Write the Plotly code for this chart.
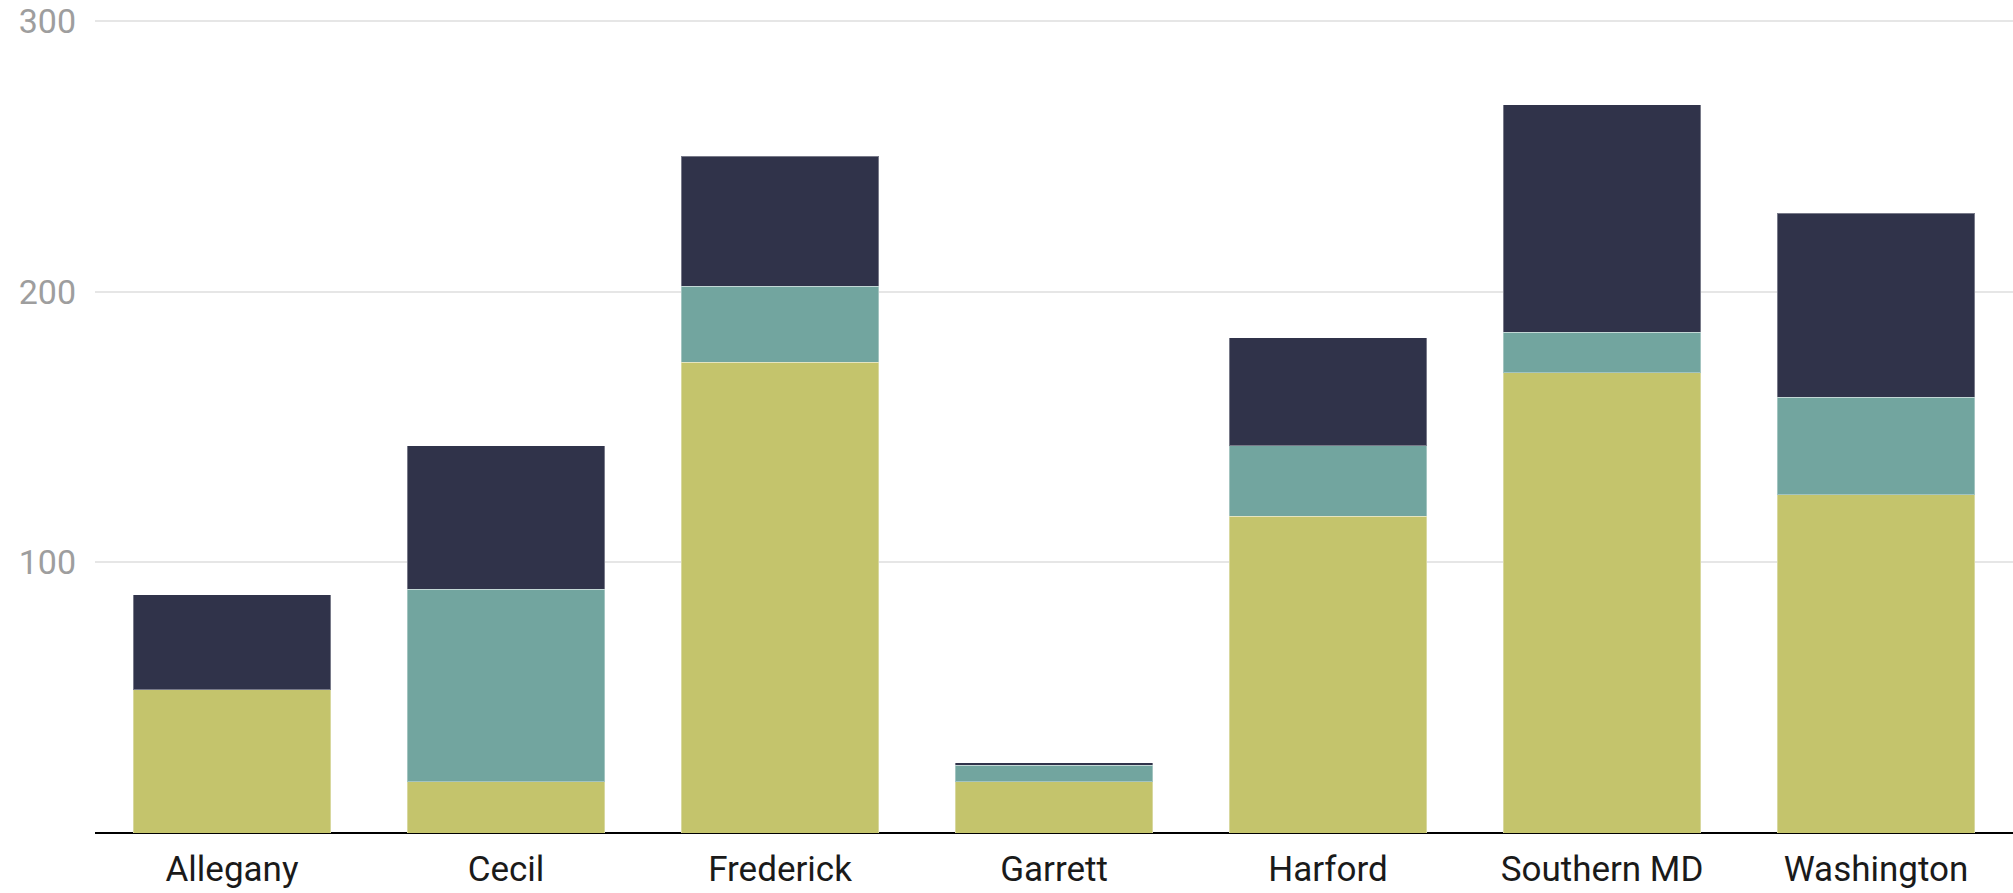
import plotly.graph_objects as go

categories = ["Allegany", "Cecil", "Frederick", "Garrett", "Harford", "Southern MD", "Washington"]
series_yellow = [53, 19, 174, 19, 117, 170, 125]
series_teal = [0, 71, 28, 6, 26, 15, 36]
series_dark = [35, 53, 48, 1, 40, 84, 68]
y_tick_values = [100, 200, 300]
y_tick_labels = ["100", "200", "300"]

colors = {"yellow": "#C4C46C", "teal": "#72A59F", "dark": "#30334A"}

fig = go.Figure()
for name, vals in [("yellow", series_yellow), ("teal", series_teal), ("dark", series_dark)]:
    fig.add_trace(go.Bar(
        x=categories, y=vals, name=name,
        marker=dict(color=colors[name], line=dict(color="rgba(255,255,255,0.35)", width=1)),
        showlegend=False,
    ))

fig.update_layout(
    barmode="stack",
    bargap=0.28,
    width=2013, height=893,
    margin=dict(l=95, r=0, t=20, b=60),
    paper_bgcolor="white", plot_bgcolor="white",
    font=dict(family="Roboto", color="#1a1a1a"),
)
fig.update_xaxes(
    showgrid=False, showline=False, zeroline=False,
    ticks="", tickfont=dict(size=35, color="#1a1a1a", family="Roboto"),
    ticklabelstandoff=12,
)
fig.update_yaxes(
    range=[0, 300.4], tickvals=y_tick_values, ticktext=y_tick_labels,
    showgrid=True, gridcolor="#e6e6e6", gridwidth=2,
    zeroline=True, zerolinecolor="#000000", zerolinewidth=2,
    showline=False, ticks="",
    tickfont=dict(size=34, color="#9e9e9e", family="Roboto"),
    ticklabelstandoff=18,
)
fig.write_html(
    "out.html",
    config={"displayModeBar": False},
    post_script="document.body.style.margin='0';document.body.style.overflow='hidden';",
)
